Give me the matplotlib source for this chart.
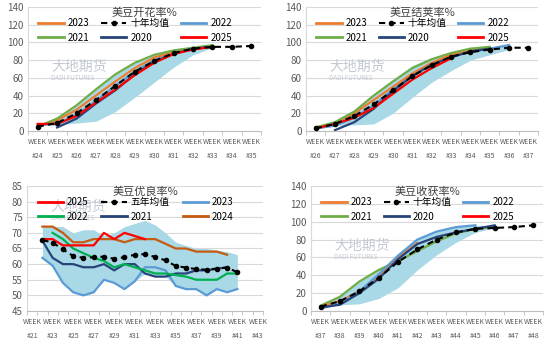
import numpy as np
import matplotlib.pyplot as plt

plt.rcParams['font.family'] = ['Noto Sans CJK SC', 'DejaVu Sans']

nan = np.nan

# 美豆开花率% (week 24-35)
bloom_weeks = list(range(24, 36))
bloom_avg = [5, 9, 20, 35, 51, 67, 79, 88, 93, 95, 95, 96]
bloom_2025 = [8, 8, 17, 32, 47, 63, 77, 87, 92, 95]
bloom_2023 = [5, 12, 24, 40, 56, 71, 83, 89, 93, 95]
bloom_2022 = [7, 8, 18, 34, 51, 67, 80, 89, 93, 95]
bloom_2021 = [5, 14, 29, 47, 64, 77, 86, 91, 94, 97]
bloom_2020 = [nan, 4, 14, 31, 46, 64, 78, 87, 93, 95]
bloom_lo = [6, 7, 9, 11, 22, 38, 55, 72, 86, 94]
bloom_hi = [8, 14, 29, 47, 64, 77, 86, 91, 94, 97]

# 美豆结荚率% (week 26-37)
pod_weeks = list(range(26, 38))
pod_avg = [3, 8, 17, 30, 46, 62, 74, 84, 89, 92, 94, 94]
pod_2025 = [3, 8, 15, 26, 42, 58, 71, 82]
pod_2023 = [4, 9, 20, 35, 50, 65, 77, 86, 91, 94]
pod_2022 = [3, 6, 15, 29, 47, 63, 76, 84, 89, 93, 97]
pod_2021 = [4, 10, 22, 40, 56, 71, 81, 88, 93, 95]
pod_2020 = [nan, 1, 10, 25, 45, 62, 75, 83, 90, 93]
pod_lo = [2, 6, 7, 8, 20, 38, 55, 68, 80, 86, 92]
pod_hi = [4, 10, 22, 42, 58, 74, 83, 89, 93, 95, 97]

# 美豆优良率% (week 21-43)
cond_weeks = list(range(21, 44))
cond_avg = [nan, 67.7, 66.9, 64.7, 62.6, 62.0, 62.2, 62.4, 61.7, 62.2, 63.0,
            63.2, 62.3, 61.2, 59.4, 58.9, 58.4, 58.2, 58.6, 58.9, 57.4]
cond_2025 = [nan, 68, 68, 66, 66, 66, 66, 70, 68, 70, 69, 68]
cond_2023 = [nan, 62, 59.5, 54, 51, 50, 51, 55, 54, 52, 54.5, 59, 59, 58,
             53, 52, 52, 50, 52, 51, 52]
cond_2022 = [nan, nan, 70, 68, 65, 63.5, 62, 61, 59, 60, 59, 58, 57, 57,
             56.5, 56, 55, 55, 55, 57, 57]
cond_2021 = [nan, 67.5, 62, 60, 60, 59, 59, 60, 58, 60, 60, 57, 56, 56,
             57, 57, 58, 58, 58.5, 59]
cond_2024 = [nan, 72, 72, 70, 67, 67, 68, 68, 68, 67, 68, 68, 68, 66.5,
             65, 65, 64, 64, 64, 63]
cond_lo = [nan, 62, 59.5, 54, 51, 50, 51, 55, 54, 52, 54.5, 57, 56, 56,
           53, 52, 52, 50, 52, 51, 52]
cond_hi = [nan, 72, 72, 72, 70, 71, 71, 69, 70, 72, 73, 74, 72.5, 70,
           67, 66, 65, 65, 64.5, 64, 63]

# 美豆收获率% (week 37-48)
harv_weeks = list(range(37, 49))
harv_avg = [5, 11, 22, 37, 55, 69, 80, 88, 92, 93, 94, 96]
harv_2025 = []
harv_2023 = [5, 11, 22, 38, 60, 76]
harv_2022 = [3, 8, 22, 41, 62, 80, 89, 94, 96]
harv_2021 = [6, 16, 33, 46, 56, 67, 78, 87, 92, 94]
harv_2020 = [4, 7, 20, 36, 58, 75, 83, 88, 92, 96]
harv_lo = [4, 7, 8, 14, 26, 46, 63, 77, 88, 93]
harv_hi = [6, 16, 33, 46, 62, 80, 89, 94, 96, 96]

ORANGE = '#ED7D31'
LBLUE = '#5B9BD5'
GREEN = '#70AD47'
NAVY = '#264478'
RED = '#FF0000'
BRGREEN = '#00B050'
BROWN = '#C55A11'
BAND = '#A9D8E6'


def draw_panel(ax, title, weeks, lo, hi, rows, draw_order, ylim, ystep,
               every=1, leg_y=0.91, wm_y=0.52):
    n = len(weeks)
    x = np.arange(n)
    ax.fill_between(x[:len(lo)], lo, hi, color=BAND, lw=0, zorder=2)
    for s in draw_order:
        lab, vals, col, avg = s
        if len(vals) == 0:
            continue
        if avg:
            ax.plot(x[:len(vals)], vals, color='black', lw=1.5, ls=(0, (3, 2)),
                    marker='o', ms=3, zorder=5)
        else:
            ax.plot(x[:len(vals)], vals, color=col, lw=1.6, zorder=4)

    # legend handles, row-major 3 columns
    handles = []
    labels = []
    for s in rows:
        lab, vals, col, avg = s
        if avg:
            h, = ax.plot([], [], color='black', lw=1.5, ls=(0, (3, 2)), marker='o', ms=3)
        else:
            h, = ax.plot([], [], color=col, lw=2)
        handles.append(h)
        labels.append(lab)
    order = [0, 3, 1, 4, 2, 5]
    ax.legend([handles[i] for i in order], [labels[i] for i in order], ncol=3,
              loc='upper left', bbox_to_anchor=(0.045, leg_y, 0.83, 0),
              mode='expand', frameon=False, fontsize=7, handlelength=2.6,
              handletextpad=0.4, borderaxespad=0, borderpad=0,
              labelspacing=0.45, numpoints=1)

    ax.text(0.5, 0.955, title, transform=ax.transAxes, ha='center', va='center',
            fontsize=8, color='#404040', zorder=6)

    # watermark
    ax.text(0.1, wm_y, '大地期货', transform=ax.transAxes, ha='left', va='center',
            fontsize=10, color='#C3C9D4', zorder=1)
    ax.text(0.1, wm_y - 0.09, 'DADI FUTURES', transform=ax.transAxes, ha='left',
            va='center', fontsize=4.5, color='#C3C9D4', zorder=1)

    ax.set_xlim(-0.5, n - 0.5)
    ax.set_ylim(*ylim)
    ax.set_yticks(np.arange(ylim[0], ylim[1] + 0.1, ystep))
    ax.set_xticks(x[::every])
    ax.set_xticklabels(['WEEK\n#%d' % w for w in weeks[::every]], linespacing=2.0)
    ax.set_xticks(np.arange(-0.5, n), minor=True)
    ax.tick_params(axis='x', which='major', length=0, pad=5, labelsize=5,
                   colors='#595959')
    ax.tick_params(axis='x', which='minor', length=3, color='#BFBFBF')
    ax.tick_params(axis='y', length=0, labelsize=7, colors='#595959', pad=3)
    ax.grid(axis='y', color='#D9D9D9', lw=0.8, zorder=0)
    ax.set_axisbelow(True)
    ax.spines['top'].set_visible(False)
    ax.spines['right'].set_visible(False)
    ax.spines['left'].set_color('#D9D9D9')
    ax.spines['bottom'].set_color('#BFBFBF')


fig = plt.figure(figsize=(5.5, 3.4), dpi=100)

# top-left: bloom
ax1 = fig.add_axes([28 / 550, 1 - 131 / 340, 233 / 550, 124 / 340])
s = {
    '2023': ('2023', bloom_2023, ORANGE, False),
    'avg': ('十年均值', bloom_avg, 'black', True),
    '2022': ('2022', bloom_2022, LBLUE, False),
    '2021': ('2021', bloom_2021, GREEN, False),
    '2020': ('2020', bloom_2020, NAVY, False),
    '2025': ('2025', bloom_2025, RED, False),
}
draw_panel(ax1, '美豆开花率%', bloom_weeks, bloom_lo, bloom_hi,
           [s['2023'], s['avg'], s['2022'], s['2021'], s['2020'], s['2025']],
           [s['2022'], s['2023'], s['2021'], s['2020'], s['avg'], s['2025']],
           (0, 140), 20)

# top-right: pod setting
ax2 = fig.add_axes([306 / 550, 1 - 131 / 340, 232 / 550, 124 / 340])
s = {
    '2023': ('2023', pod_2023, ORANGE, False),
    'avg': ('十年均值', pod_avg, 'black', True),
    '2022': ('2022', pod_2022, LBLUE, False),
    '2021': ('2021', pod_2021, GREEN, False),
    '2020': ('2020', pod_2020, NAVY, False),
    '2025': ('2025', pod_2025, RED, False),
}
draw_panel(ax2, '美豆结荚率%', pod_weeks, pod_lo, pod_hi,
           [s['2023'], s['avg'], s['2022'], s['2021'], s['2020'], s['2025']],
           [s['2022'], s['2023'], s['2021'], s['2020'], s['avg'], s['2025']],
           (0, 140), 20)

# bottom-left: condition
ax3 = fig.add_axes([27 / 550, 1 - 311 / 340, 236 / 550, 125 / 340])
s = {
    '2025': ('2025', cond_2025, RED, False),
    'avg': ('五年均值', cond_avg, 'black', True),
    '2023': ('2023', cond_2023, LBLUE, False),
    '2022': ('2022', cond_2022, BRGREEN, False),
    '2021': ('2021', cond_2021, NAVY, False),
    '2024': ('2024', cond_2024, BROWN, False),
}
draw_panel(ax3, '美豆优良率%', cond_weeks, cond_lo, cond_hi,
           [s['2025'], s['avg'], s['2023'], s['2022'], s['2021'], s['2024']],
           [s['2023'], s['2021'], s['2022'], s['2024'], s['2025'], s['avg']],
           (45, 85), 5, every=2, wm_y=0.83)

# bottom-right: harvest
ax4 = fig.add_axes([311 / 550, 1 - 311 / 340, 232 / 550, 125 / 340])
s = {
    '2023': ('2023', harv_2023, ORANGE, False),
    'avg': ('十年均值', harv_avg, 'black', True),
    '2022': ('2022', harv_2022, LBLUE, False),
    '2021': ('2021', harv_2021, GREEN, False),
    '2020': ('2020', harv_2020, NAVY, False),
    '2025': ('2025', harv_2025, RED, False),
}
draw_panel(ax4, '美豆收获率%', harv_weeks, harv_lo, harv_hi,
           [s['2023'], s['avg'], s['2022'], s['2021'], s['2020'], s['2025']],
           [s['2021'], s['2023'], s['2022'], s['avg'], s['2020'], s['2025']],
           (0, 140), 20)

fig.savefig('out.png', dpi=100)
